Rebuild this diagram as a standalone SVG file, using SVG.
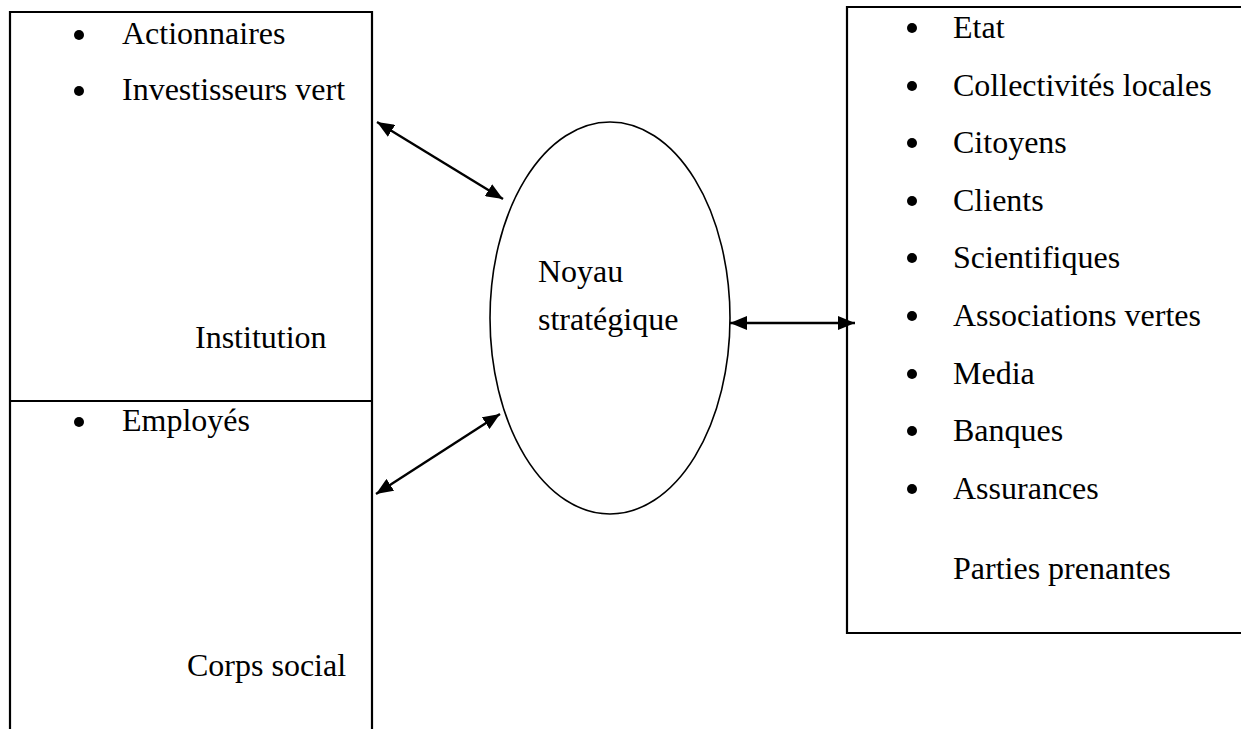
<svg xmlns="http://www.w3.org/2000/svg" width="1241" height="729" viewBox="0 0 1241 729">
  <style>
    .box { fill: none; stroke: #000; stroke-width: 2.2; }
    .oval { fill: none; stroke: #000; stroke-width: 1.6; }
    .lbl { font-family: "Liberation Serif", "Times New Roman", serif; font-size: 32px; fill: #000; }
    .dot { fill: #000; }
    .link { stroke: #000; stroke-width: 2.4; fill: none; marker-start: url(#head); marker-end: url(#head); }
  </style>
  <defs>
    <marker id="head" markerUnits="userSpaceOnUse" markerWidth="18" markerHeight="14" refX="17" refY="7" orient="auto-start-reverse">
      <path d="M0,0 L17,7 L0,14 z" fill="#000"/>
    </marker>
  </defs>
  <rect width="1241" height="729" fill="#fff"/>

  <!-- Institution (upper left) -->
  <g id="institution">
    <path class="box" d="M10,729 V12 H372 V729"/>
    <circle class="dot" cx="79" cy="35" r="5"/>
    <text class="lbl" x="122" y="44">Actionnaires</text>
    <circle class="dot" cx="79" cy="91" r="5"/>
    <text class="lbl" x="122" y="100">Investisseurs vert</text>
    <text class="lbl" x="195" y="348">Institution</text>
  </g>

  <!-- Corps social (lower left) -->
  <g id="corps-social">
    <path class="box" d="M10,401 H372"/>
    <circle class="dot" cx="79" cy="422" r="5"/>
    <text class="lbl" x="122" y="431">Employés</text>
    <text class="lbl" x="187" y="676">Corps social</text>
  </g>

  <!-- Noyau stratégique (centre) -->
  <g id="noyau">
    <ellipse class="oval" cx="610" cy="318" rx="120" ry="196"/>
    <text class="lbl" x="538" y="282">Noyau</text>
    <text class="lbl" x="538" y="330">stratégique</text>
  </g>

  <!-- Parties prenantes (right) -->
  <g id="parties-prenantes">
    <path class="box" d="M1243,7 H847 V633 H1243"/>
    <g class="dot">
      <circle cx="912" cy="28" r="5"/>
      <circle cx="912" cy="86" r="5"/>
      <circle cx="912" cy="143" r="5"/>
      <circle cx="912" cy="201" r="5"/>
      <circle cx="912" cy="258" r="5"/>
      <circle cx="912" cy="316" r="5"/>
      <circle cx="912" cy="374" r="5"/>
      <circle cx="912" cy="431" r="5"/>
      <circle cx="912" cy="489" r="5"/>
    </g>
    <text class="lbl" x="953" y="38">Etat</text>
    <text class="lbl" x="953" y="96">Collectivités locales</text>
    <text class="lbl" x="953" y="153">Citoyens</text>
    <text class="lbl" x="953" y="211">Clients</text>
    <text class="lbl" x="953" y="268">Scientifiques</text>
    <text class="lbl" x="953" y="326">Associations vertes</text>
    <text class="lbl" x="953" y="384">Media</text>
    <text class="lbl" x="953" y="441">Banques</text>
    <text class="lbl" x="953" y="499">Assurances</text>
    <text class="lbl" x="953" y="579">Parties prenantes</text>
  </g>

  <!-- Double-headed connectors -->
  <g id="connectors">
    <line class="link" x1="377" y1="122" x2="503" y2="199"/>
    <line class="link" x1="376" y1="494" x2="500" y2="414"/>
    <line class="link" x1="730" y1="323" x2="855" y2="323"/>
  </g>
</svg>
